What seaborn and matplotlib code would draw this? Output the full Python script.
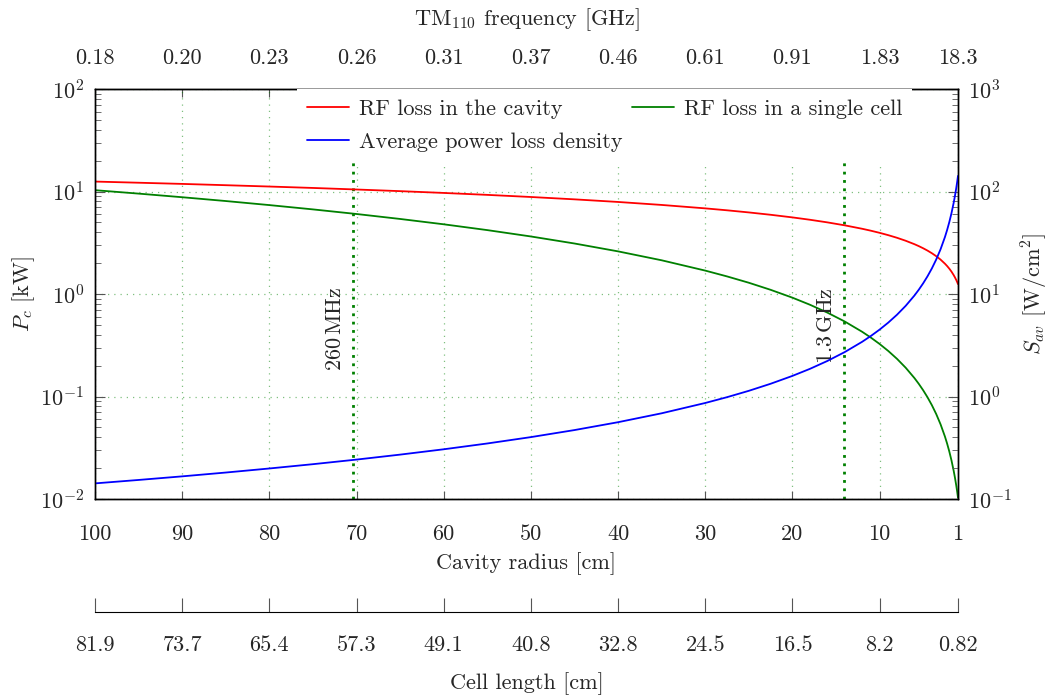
import matplotlib
matplotlib.use("Agg")
import matplotlib.pyplot as plt
import seaborn as sns
import pandas as pd

# ---- data ----
radius = [100, 95, 90, 85, 80, 75, 70, 65, 60, 55, 50, 45, 40, 35, 30, 27.5, 25, 22.5, 20, 18, 16,
          14, 12, 11, 10, 9, 8, 7, 6, 5.5, 5, 4.5, 4, 3.5, 3, 2.5, 2.25, 2, 1.75, 1.5, 1.35, 1.2,
          1.1, 1]
p_cavity = [12.5, 12.18, 11.86, 11.52, 11.18, 10.83, 10.46, 10.08, 9.682, 9.270, 8.839, 8.385,
            7.906, 7.395, 6.847, 6.555, 6.25, 5.929, 5.590, 5.303, 5.0, 4.677, 4.330, 4.146, 3.953,
            3.75, 3.536, 3.307, 3.062, 2.932, 2.795, 2.652, 2.5, 2.339, 2.165, 1.976, 1.875, 1.768,
            1.654, 1.531, 1.452, 1.369, 1.311, 1.25]
p_cell = [10.3, 9.537, 8.794, 8.072, 7.370, 6.690, 6.033, 5.397, 4.787, 4.201, 3.642, 3.110, 2.606,
          2.133, 1.692, 1.485, 1.288, 1.099, 0.9212, 0.7866, 0.6592, 0.5395, 0.4282, 0.3757,
          0.3257, 0.2781, 0.2331, 0.1908, 0.1514, 0.1329, 0.1152, 0.09832, 0.0824, 0.06744,
          0.05352, 0.04072, 0.03476, 0.02913, 0.02384, 0.01892, 0.01616, 0.01354, 0.01188, 0.0103]
s_av = [0.142, 0.1534, 0.1663, 0.1812, 0.1985, 0.2186, 0.2424, 0.2710, 0.3055, 0.3481, 0.4016,
        0.4704, 0.5613, 0.6857, 0.8643, 0.9847, 1.136, 1.331, 1.588, 1.859, 2.219, 2.711, 3.416,
        3.893, 4.491, 5.259, 6.275, 7.667, 9.660, 11.01, 12.70, 14.88, 17.75, 21.69, 27.33, 35.92,
        42.07, 50.21, 61.34, 77.30, 90.53, 108.0, 123.1, 142.0]

r_ticks = [100, 90, 80, 70, 60, 50, 40, 30, 20, 10, 1]
freq_labels = ['0.18', '0.20', '0.23', '0.26', '0.31', '0.37', '0.46', '0.61', '0.91', '1.83', '18.3']
cell_labels = ['81.9', '73.7', '65.4', '57.3', '49.1', '40.8', '32.8', '24.5', '16.5', '8.2', '0.82']

marker_r = [70.4, 14.07]
marker_labels = ['260$\\,$MHz', '1.3$\\,$GHz']

# ---- style ----
sns.set_style("white")
plt.rcParams['font.family'] = 'serif'
plt.rcParams['font.serif'] = ['cmr10', 'DejaVu Serif']
plt.rcParams['mathtext.fontset'] = 'cm'
plt.rcParams['axes.formatter.use_mathtext'] = True
plt.rcParams['axes.unicode_minus'] = False
FS = 16
TICKC = '#555555'

df = pd.DataFrame({'radius': radius, 'cavity': p_cavity, 'cell': p_cell, 'sav': s_av})

fig = plt.figure(figsize=(10.48, 6.97), dpi=100)
L, R, B, T = 95 / 1048, 958 / 1048, 1 - 499 / 697, 1 - 89 / 697
ax = fig.add_axes([L, B, R - L, T - B])
axr = ax.twinx()

sns.lineplot(data=df, x='radius', y='cavity', ax=ax, color='red', lw=1.3,
             label='RF loss in the cavity', legend=False)
sns.lineplot(data=df, x='radius', y='cell', ax=ax, color='green', lw=1.3,
             label='RF loss in a single cell', legend=False)
sns.lineplot(data=df, x='radius', y='sav', ax=axr, color='blue', lw=1.3,
             label='Average power loss density', legend=False)

ax.set_xlim(100, 1)
ax.set_yscale('log')
ax.set_ylim(1e-2, 1e2)
axr.set_yscale('log')
axr.set_ylim(1e-1, 1e3)

ax.set_xticks(r_ticks)
ax.set_xticklabels([str(v) for v in r_ticks])
ax.grid(True, which='major', color='green', alpha=0.5, linestyle=(0, (1, 4)), lw=0.9)
ax.grid(False, which='minor')
axr.grid(False)

for spine in list(ax.spines.values()) + list(axr.spines.values()):
    spine.set_color('black')
    spine.set_linewidth(1.0)

ax.tick_params(axis='x', which='major', direction='in', length=6, pad=18, labelsize=FS,
               bottom=True, top=False, color=TICKC)
ax.tick_params(axis='y', which='both', direction='in', left=True, right=False, labelsize=FS,
               pad=8, color=TICKC)
ax.tick_params(axis='y', which='major', length=7)
ax.tick_params(axis='y', which='minor', length=4)
axr.tick_params(axis='y', which='both', direction='in', right=True, left=False, labelsize=FS,
                pad=7, color=TICKC)
axr.tick_params(axis='y', which='major', length=7)
axr.tick_params(axis='y', which='minor', length=4)

ax.set_xlabel('Cavity radius [cm]', fontsize=FS, labelpad=6)
ax.set_ylabel('$P_c$ [kW]', fontsize=FS, labelpad=2)
axr.set_ylabel('$S_{av}$ [W/cm$^2$]', fontsize=FS, labelpad=6)

# top frequency axis
sec = ax.secondary_xaxis('top')
sec.set_xticks(r_ticks)
sec.set_xticklabels(freq_labels)
sec.tick_params(axis='x', which='major', direction='in', length=6, pad=15, labelsize=FS,
                top=True, bottom=False, color=TICKC)
sec.set_xlabel('TM$_{110}$ frequency [GHz]', fontsize=FS, labelpad=17)

# marker lines
for r, lab in zip(marker_r, marker_labels):
    ax.axvline(r, color='green', linestyle=(0, (1, 2)), lw=2.0, zorder=1.5)
    ax.text(r + 2.0, 1.17, lab, rotation=90, ha='center', va='top', fontsize=FS)

# legend
h1, l1 = ax.get_legend_handles_labels()
h2, l2 = axr.get_legend_handles_labels()
handles = [h1[0], h2[0], h1[1]]
labels = [l1[0], l2[0], l1[1]]
leg = axr.legend(handles, labels, ncol=2, loc='upper left', bbox_to_anchor=(0.234, 1.0),
                 borderaxespad=0, borderpad=0.45, fontsize=FS, frameon=True, fancybox=False,
                 handlelength=1.9, handletextpad=0.45, columnspacing=0.4, labelspacing=0.62)
leg.get_frame().set_edgecolor('none')
leg.get_frame().set_facecolor('white')
leg.get_frame().set_alpha(1.0)

# secondary bottom axis: cell length
axb = fig.add_axes([L, 1 - 612 / 697, R - L, 1e-4])
axb.set_xlim(100, 1)
axb.set_ylim(0, 1)
axb.set_yticks([])
axb.set_facecolor('none')
for s in ['top', 'left', 'right']:
    axb.spines[s].set_visible(False)
axb.spines['bottom'].set_color('black')
axb.set_xticks(r_ticks)
axb.set_xticklabels(cell_labels)
axb.tick_params(axis='x', which='major', direction='in', length=10, pad=17, labelsize=FS,
                bottom=True, top=False, color=TICKC)
axb.set_xlabel('Cell length [cm]', fontsize=FS, labelpad=12)

fig.savefig('out.png', dpi=100)
